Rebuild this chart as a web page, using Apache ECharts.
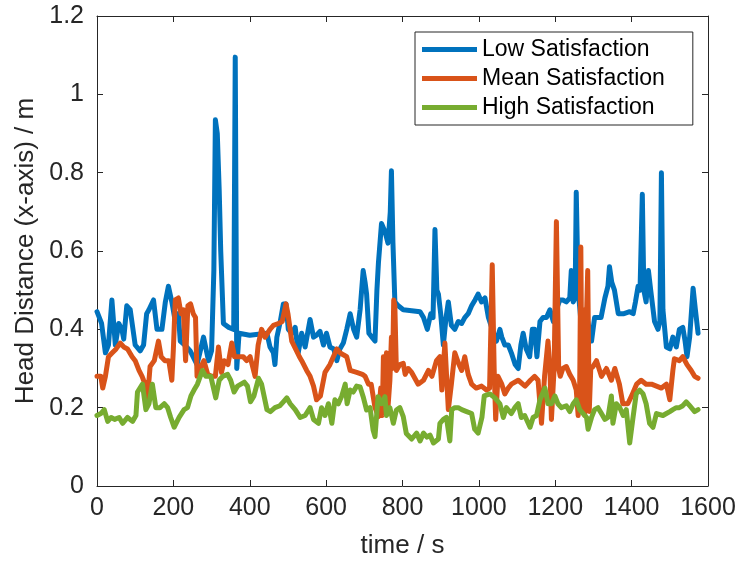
<!DOCTYPE html>
<html>
<head>
<meta charset="utf-8">
<script src="https://cdn.jsdelivr.net/npm/echarts@6/dist/echarts.min.js"></script>
<style>
  html, body { margin: 0; padding: 0; background: #fff; }
  #chart { width: 738px; height: 561px; }
</style>
</head>
<body>
<div id="chart"></div>
<script>
// values (time in s, head distance in m)
const lowTime = [0, 12, 22, 30, 39, 48, 57, 65, 70, 78, 87, 100, 113, 122, 130, 136, 148, 157, 170, 179, 187, 196, 205, 213, 218, 230, 244, 262, 279, 292, 300, 306, 310, 315, 320, 324, 331, 345, 358, 362, 366, 372, 400, 445, 453, 462, 466, 471, 480, 488, 495, 501, 510, 519, 527, 536, 545, 558, 567, 575, 584, 593, 601, 610, 620, 628, 636, 645, 654, 663, 672, 680, 689, 697, 702, 706, 712, 720, 728, 733, 737, 745, 754, 762, 768, 771, 775, 780, 789, 802, 846, 855, 865, 874, 880, 885, 890, 894, 900, 907, 914, 920, 928, 937, 946, 955, 963, 972, 981, 990, 998, 1007, 1016, 1025, 1035, 1046, 1055, 1060, 1068, 1077, 1085, 1095, 1103, 1110, 1116, 1124, 1133, 1140, 1146, 1152, 1160, 1168, 1177, 1186, 1195, 1203, 1212, 1220, 1229, 1238, 1242, 1247, 1252, 1255, 1260, 1264, 1270, 1285, 1295, 1303, 1320, 1330, 1338, 1342, 1348, 1355, 1365, 1380, 1395, 1404, 1410, 1417, 1422, 1428, 1432, 1438, 1444, 1450, 1460, 1469, 1474, 1478, 1482, 1491, 1500, 1508, 1517, 1525, 1534, 1540, 1545, 1552, 1561, 1567, 1574];
const lowDist = [0.445, 0.415, 0.34, 0.36, 0.475, 0.36, 0.415, 0.4, 0.375, 0.46, 0.45, 0.36, 0.345, 0.36, 0.44, 0.45, 0.475, 0.4, 0.4, 0.47, 0.51, 0.47, 0.42, 0.44, 0.37, 0.36, 0.345, 0.31, 0.38, 0.32, 0.345, 0.55, 0.935, 0.9, 0.755, 0.6, 0.415, 0.405, 0.4, 1.095, 0.3, 0.39, 0.385, 0.39, 0.355, 0.34, 0.31, 0.38, 0.42, 0.465, 0.465, 0.4, 0.39, 0.405, 0.34, 0.39, 0.355, 0.425, 0.38, 0.385, 0.395, 0.36, 0.39, 0.355, 0.35, 0.32, 0.35, 0.365, 0.4, 0.44, 0.4, 0.38, 0.45, 0.55, 0.52, 0.49, 0.39, 0.38, 0.37, 0.5, 0.57, 0.67, 0.65, 0.62, 0.7, 0.805, 0.62, 0.47, 0.46, 0.45, 0.445, 0.43, 0.4, 0.44, 0.43, 0.655, 0.5, 0.49, 0.44, 0.36, 0.43, 0.47, 0.41, 0.4, 0.42, 0.415, 0.43, 0.44, 0.46, 0.475, 0.49, 0.47, 0.48, 0.43, 0.4, 0.37, 0.4, 0.38, 0.36, 0.36, 0.34, 0.31, 0.3, 0.36, 0.39, 0.35, 0.33, 0.4, 0.4, 0.33, 0.42, 0.43, 0.43, 0.45, 0.42, 0.45, 0.475, 0.475, 0.47, 0.48, 0.55, 0.47, 0.48, 0.75, 0.5, 0.457, 0.39, 0.42, 0.37, 0.43, 0.43, 0.48, 0.51, 0.56, 0.52, 0.5, 0.44, 0.44, 0.445, 0.44, 0.47, 0.51, 0.5, 0.745, 0.5, 0.47, 0.55, 0.5, 0.42, 0.4, 0.42, 0.8, 0.45, 0.355, 0.35, 0.38, 0.355, 0.4, 0.405, 0.37, 0.33, 0.38, 0.505, 0.45, 0.39];

const meanTime = [0, 10, 15, 22, 30, 40, 50, 61, 70, 80, 92, 100, 110, 118, 122, 128, 132, 139, 150, 161, 168, 178, 188, 196, 200, 205, 213, 220, 226, 232, 238, 245, 252, 258, 262, 270, 280, 290, 300, 310, 318, 326, 333, 343, 353, 360, 370, 383, 392, 401, 414, 422, 431, 440, 453, 462, 475, 485, 495, 500, 510, 520, 530, 536, 549, 558, 567, 575, 585, 597, 610, 619, 628, 637, 645, 654, 663, 680, 695, 702, 711, 718, 728, 737, 743, 747, 750, 754, 758, 762, 767, 771, 774, 777, 780, 784, 793, 802, 807, 815, 824, 841, 855, 868, 877, 889, 898, 903, 911, 920, 928, 937, 946, 955, 963, 972, 981, 993, 1007, 1020, 1028, 1035, 1040, 1044, 1050, 1060, 1068, 1077, 1085, 1103, 1121, 1135, 1146, 1155, 1164, 1172, 1181, 1186, 1190, 1197, 1203, 1209, 1213, 1220, 1229, 1238, 1247, 1255, 1260, 1264, 1267, 1270, 1274, 1277, 1281, 1285, 1289, 1293, 1299, 1308, 1321, 1334, 1347, 1356, 1368, 1377, 1390, 1400, 1413, 1425, 1438, 1452, 1465, 1478, 1491, 1500, 1508, 1512, 1525, 1534, 1545, 1556, 1565, 1574];
const meanDist = [0.28, 0.28, 0.25, 0.28, 0.33, 0.34, 0.35, 0.365, 0.355, 0.35, 0.33, 0.32, 0.295, 0.28, 0.27, 0.26, 0.22, 0.305, 0.32, 0.37, 0.33, 0.32, 0.32, 0.27, 0.35, 0.475, 0.48, 0.44, 0.45, 0.32, 0.46, 0.465, 0.44, 0.43, 0.28, 0.3, 0.32, 0.285, 0.28, 0.28, 0.355, 0.29, 0.32, 0.31, 0.365, 0.33, 0.33, 0.33, 0.32, 0.33, 0.28, 0.36, 0.4, 0.38, 0.4, 0.41, 0.415, 0.42, 0.465, 0.44, 0.37, 0.35, 0.33, 0.32, 0.295, 0.28, 0.255, 0.22, 0.23, 0.29, 0.31, 0.33, 0.35, 0.34, 0.335, 0.33, 0.295, 0.29, 0.285, 0.28, 0.26, 0.26, 0.2, 0.177, 0.25, 0.18, 0.33, 0.22, 0.34, 0.2, 0.27, 0.38, 0.3, 0.475, 0.46, 0.295, 0.31, 0.313, 0.285, 0.3, 0.29, 0.26, 0.27, 0.295, 0.28, 0.32, 0.33, 0.245, 0.365, 0.195, 0.26, 0.34, 0.315, 0.295, 0.33, 0.285, 0.26, 0.25, 0.255, 0.245, 0.25, 0.565, 0.3, 0.17, 0.28, 0.26, 0.235, 0.25, 0.26, 0.27, 0.255, 0.27, 0.28, 0.27, 0.16, 0.28, 0.37, 0.3, 0.17, 0.3, 0.675, 0.3, 0.28, 0.3, 0.305, 0.285, 0.27, 0.245, 0.18, 0.25, 0.61, 0.2, 0.45, 0.18, 0.4, 0.55, 0.19, 0.3, 0.305, 0.32, 0.28, 0.3, 0.27, 0.3, 0.26, 0.21, 0.21, 0.23, 0.26, 0.27, 0.26, 0.26, 0.255, 0.25, 0.26, 0.22, 0.295, 0.325, 0.32, 0.33, 0.31, 0.295, 0.28, 0.275];

const highTime = [0, 10, 19, 28, 37, 46, 58, 67, 80, 93, 102, 106, 119, 128, 136, 145, 154, 165, 176, 185, 193, 202, 215, 228, 237, 246, 254, 263, 276, 285, 298, 311, 320, 329, 342, 350, 359, 368, 377, 386, 394, 402, 411, 423, 431, 445, 454, 466, 479, 488, 497, 506, 519, 532, 545, 558, 567, 580, 588, 597, 606, 615, 623, 632, 641, 650, 655, 663, 671, 680, 689, 697, 706, 715, 723, 728, 736, 745, 754, 758, 767, 776, 784, 793, 802, 810, 824, 837, 846, 855, 864, 872, 881, 894, 898, 907, 915, 924, 929, 937, 946, 955, 968, 981, 989, 998, 1008, 1014, 1029, 1042, 1055, 1064, 1072, 1085, 1094, 1103, 1111, 1120, 1134, 1142, 1151, 1160, 1173, 1181, 1190, 1199, 1207, 1216, 1229, 1238, 1247, 1255, 1264, 1273, 1282, 1286, 1295, 1303, 1312, 1321, 1330, 1338, 1347, 1351, 1360, 1369, 1378, 1386, 1395, 1403, 1412, 1421, 1430, 1438, 1447, 1456, 1465, 1482, 1491, 1500, 1508, 1517, 1525, 1534, 1543, 1552, 1565, 1574];
const highDist = [0.18, 0.185, 0.195, 0.165, 0.175, 0.17, 0.175, 0.16, 0.175, 0.165, 0.18, 0.24, 0.26, 0.195, 0.21, 0.26, 0.2, 0.2, 0.21, 0.2, 0.175, 0.15, 0.175, 0.195, 0.2, 0.23, 0.245, 0.26, 0.295, 0.28, 0.28, 0.225, 0.27, 0.28, 0.285, 0.27, 0.24, 0.255, 0.26, 0.265, 0.255, 0.215, 0.23, 0.275, 0.26, 0.195, 0.19, 0.2, 0.205, 0.215, 0.225, 0.21, 0.195, 0.175, 0.18, 0.2, 0.17, 0.16, 0.2, 0.18, 0.21, 0.16, 0.22, 0.21, 0.23, 0.26, 0.21, 0.245, 0.24, 0.255, 0.253, 0.228, 0.194, 0.2, 0.143, 0.126, 0.228, 0.21, 0.228, 0.18, 0.2, 0.16, 0.194, 0.2, 0.177, 0.134, 0.12, 0.135, 0.115, 0.135, 0.125, 0.13, 0.11, 0.12, 0.16, 0.17, 0.175, 0.115, 0.195, 0.2, 0.2, 0.195, 0.19, 0.185, 0.145, 0.135, 0.175, 0.23, 0.235, 0.225, 0.21, 0.175, 0.2, 0.185, 0.2, 0.21, 0.175, 0.18, 0.15, 0.175, 0.18, 0.22, 0.25, 0.21, 0.21, 0.23, 0.21, 0.2, 0.205, 0.19, 0.21, 0.22, 0.195, 0.185, 0.175, 0.145, 0.175, 0.195, 0.2, 0.185, 0.17, 0.175, 0.23, 0.16, 0.21, 0.2, 0.18, 0.195, 0.11, 0.17, 0.235, 0.245, 0.235, 0.21, 0.16, 0.15, 0.185, 0.18, 0.185, 0.19, 0.195, 0.2, 0.2, 0.205, 0.215, 0.205, 0.19, 0.195];

const seriesNames = ["Low Satisfaction", "Mean Satisfaction", "High Satisfaction"];
const seriesColors = ["#0072BD", "#D95319", "#77AC30"];

const font = "'Liberation Sans', Arial, Helvetica, sans-serif";
const ink = "#262626";

function pairs(t, v) {
  return t.map((x, i) => [x, v[i]]);
}

const chart = echarts.init(document.getElementById("chart"), null, { renderer: "canvas" });

const boxAxis = {
  axisLine: { show: true, onZero: false, lineStyle: { color: ink, width: 1 } },
  axisTick: { show: true, inside: true, length: 6, lineStyle: { color: ink, width: 1 } },
  splitLine: { show: false },
};

const option = {
  animation: false,
  backgroundColor: "#fff",
  textStyle: { fontFamily: font },
  grid: {
    left: 97,
    right: 30,
    top: 16,
    bottom: 75,
    containLabel: false,
    outerBoundsMode: "none",
  },
  legend: {
    data: seriesNames,
    orient: "vertical",
    left: 415,
    top: 32,
    icon: "rect",
    itemWidth: 55,
    itemHeight: 5,
    itemGap: 6,
    padding: [6, 28, 6, 7],
    borderColor: ink,
    borderWidth: 1,
    backgroundColor: "#fff",
    textStyle: { fontFamily: font, fontSize: 23, color: "#000" },
  },
  xAxis: [
    {
      ...boxAxis,
      type: "value",
      position: "bottom",
      min: 0,
      max: 1600,
      interval: 200,
      name: "time / s",
      nameLocation: "middle",
      nameGap: 47,
      nameTextStyle: { fontFamily: font, fontSize: 26, color: ink },
      axisLabel: {
        fontFamily: font,
        fontSize: 25,
        color: ink,
        margin: 10,
        formatter: (v) => String(v),
      },
    },
    {
      ...boxAxis,
      type: "value",
      position: "top",
      min: 0,
      max: 1600,
      interval: 200,
      axisLabel: { show: false },
    },
  ],
  yAxis: [
    {
      ...boxAxis,
      type: "value",
      position: "left",
      min: 0,
      max: 1.2,
      interval: 0.2,
      name: "Head Distance (x-axis) / m",
      nameLocation: "middle",
      nameGap: 56,
      nameTextStyle: { fontFamily: font, fontSize: 26, color: ink },
      axisLabel: {
        fontFamily: font,
        fontSize: 25,
        color: ink,
        margin: 13,
        formatter: (v) => String(Math.round(v * 10) / 10),
      },
    },
    {
      ...boxAxis,
      type: "value",
      position: "right",
      min: 0,
      max: 1.2,
      interval: 0.2,
      axisLabel: { show: false },
    },
  ],
  series: [
    [lowTime, lowDist],
    [meanTime, meanDist],
    [highTime, highDist],
  ].map(([t, v], i) => ({
    name: seriesNames[i],
    type: "line",
    data: pairs(t, v),
    showSymbol: false,
    symbol: "none",
    color: seriesColors[i],
    lineStyle: { width: 5, color: seriesColors[i], join: "round", cap: "round" },
  })),
};

chart.setOption(option);
</script>
</body>
</html>
